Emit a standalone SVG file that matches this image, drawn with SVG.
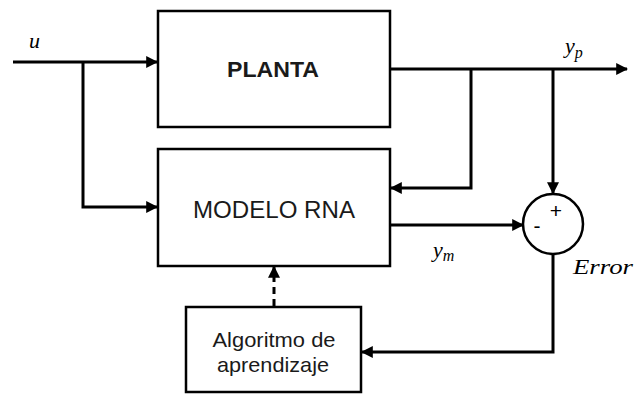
<svg xmlns="http://www.w3.org/2000/svg" width="636" height="394" viewBox="0 0 636 394">
<style>
.box{fill:#fff;stroke:#000;stroke-width:2.5}
.ln{fill:none;stroke:#000;stroke-width:3}
.lbl{font-family:"Liberation Sans",Arial,sans-serif;fill:#1a1a1a;text-anchor:middle}
.m{font-family:"Liberation Serif","Times New Roman",serif;font-style:italic;font-size:22px;fill:#000}
</style>
<defs>
<marker id="ah" viewBox="0 0 10 10" refX="9" refY="5" markerWidth="4" markerHeight="4" orient="auto" markerUnits="strokeWidth">
<path d="M0,0 L10,5 L0,10 Z" fill="#000"/>
</marker>
</defs>
<rect width="636" height="394" fill="#fff"/>
<g id="connectors">
<path class="ln" d="M13,62 H157" marker-end="url(#ah)"/>
<path class="ln" d="M83,62 V207 H157" marker-end="url(#ah)"/>
<path class="ln" d="M390,69 H627" marker-end="url(#ah)"/>
<path class="ln" d="M471,69 V188 H391" marker-end="url(#ah)"/>
<path class="ln" d="M553,69 V193" marker-end="url(#ah)"/>
<path class="ln" d="M390,225 H523" marker-end="url(#ah)"/>
<path class="ln" d="M553,255 V352 H362" marker-end="url(#ah)"/>
<path class="ln" d="M274,306 V267" stroke-dasharray="7,5" marker-end="url(#ah)"/>
</g>
<g id="planta">
<rect class="box" x="158" y="11" width="232" height="116"/>
<text class="lbl" x="273" y="77" font-size="22.5" font-weight="bold" textLength="92" lengthAdjust="spacingAndGlyphs">PLANTA</text>
</g>
<g id="modelo">
<rect class="box" x="158" y="149" width="232" height="117"/>
<text class="lbl" x="274" y="218" font-size="24" textLength="162" lengthAdjust="spacingAndGlyphs">MODELO RNA</text>
</g>
<g id="algoritmo">
<rect class="box" x="186" y="307" width="175" height="85"/>
<text class="lbl" x="274" y="347" font-size="21" textLength="123" lengthAdjust="spacingAndGlyphs">Algoritmo de</text>
<text class="lbl" x="273" y="372" font-size="21" textLength="112" lengthAdjust="spacingAndGlyphs">aprendizaje</text>
</g>
<g id="sum">
<circle cx="553" cy="224" r="30" fill="#fff" stroke="#000" stroke-width="2.5"/>
<text x="556" y="218" font-family="Liberation Sans,Arial,sans-serif" font-size="21" text-anchor="middle">+</text>
<text x="537" y="233" font-family="Liberation Sans,Arial,sans-serif" font-size="21" text-anchor="middle">-</text>
</g>
<g id="labels">
<text class="m" x="29" y="48" font-size="25">u</text>
<text class="m" x="565" y="53">y<tspan font-size="16" dy="5">p</tspan></text>
<text class="m" x="433" y="257">y<tspan font-size="16" dy="4">m</tspan></text>
<text class="m" x="573" y="274" font-size="21" textLength="60" lengthAdjust="spacingAndGlyphs">Error</text>
</g>
</svg>
